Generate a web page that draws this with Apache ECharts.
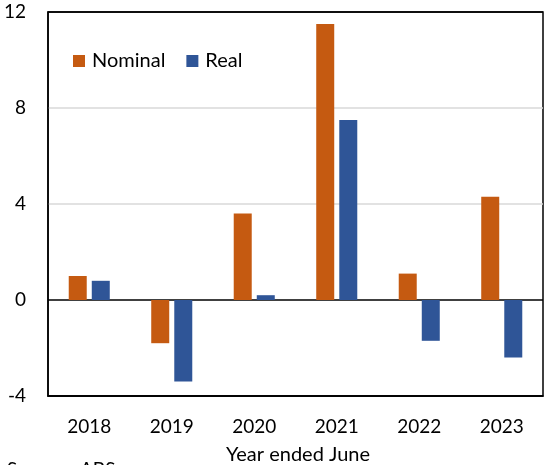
<!DOCTYPE html>
<html>
<head>
<meta charset="utf-8">
<script src="https://cdn.jsdelivr.net/npm/echarts@6/dist/echarts.min.js"></script>
<style>
  html, body { margin: 0; padding: 0; background: #fff; }
  #chart { width: 544px; height: 465px; }
</style>
</head>
<body>
<div id="chart"></div>
<script>
// Annual growth, year ended June (per cent)
const years = ['2018', '2019', '2020', '2021', '2022', '2023'];
const nominal = [1.0, -1.8, 3.6, 11.5, 1.1, 4.3];
const real = [0.8, -3.4, 0.2, 7.5, -1.7, -2.4];
const yTicks = { min: -4, max: 12, step: 4 };

const FONT = 'Lato, "Open Sans", sans-serif';
const chart = echarts.init(document.getElementById('chart'), null, { renderer: 'canvas' });

chart.setOption({
  animation: false,
  backgroundColor: '#fff',
  textStyle: { fontFamily: FONT },
  grid: {
    left: 48, right: 1, top: 12, bottom: 69,
    show: true, borderColor: '#000', borderWidth: 1.5, backgroundColor: 'transparent'
  },
  legend: {
    left: 68, top: 46,
    itemWidth: 12, itemHeight: 12, itemGap: 21,
    icon: 'rect',
    textStyle: { fontFamily: FONT, fontSize: 20, color: '#000', padding: [0, 0, 0, 2] },
    data: ['Nominal', 'Real']
  },
  xAxis: {
    type: 'category',
    data: years,
    axisTick: { show: false },
    axisLine: { onZero: false, lineStyle: { color: '#000', width: 1.5 } },
    axisLabel: { fontFamily: FONT, fontSize: 19, color: '#000', margin: 21 }
  },
  yAxis: {
    type: 'value',
    min: yTicks.min, max: yTicks.max, interval: yTicks.step,
    axisTick: { show: false },
    axisLine: { show: true, lineStyle: { color: '#000', width: 1.5 } },
    axisLabel: { fontFamily: FONT, fontSize: 19, color: '#000', margin: 22 },
    splitLine: {
      show: true,
      lineStyle: { color: ['#000', '#000', '#d9d9d9', '#d9d9d9', '#000'], width: 1.5 }
    }
  },
  series: [
    {
      name: 'Nominal', type: 'bar', data: nominal,
      barWidth: 18, barGap: '28%',
      itemStyle: { color: '#C55A11' }
    },
    {
      name: 'Real', type: 'bar', data: real,
      barWidth: 18,
      itemStyle: { color: '#2F5597' }
    }
  ],
  graphic: [
    {
      type: 'text', x: 298, y: 455,
      style: { text: 'Year ended June', fontFamily: FONT, fontSize: 20, fill: '#000',
               align: 'center', verticalAlign: 'middle' }
    },
    {
      type: 'text', x: 7, y: 460,
      style: { text: 'Source:', fontFamily: FONT, fontSize: 19, fill: '#000', verticalAlign: 'top' }
    },
    {
      type: 'text', x: 80, y: 460,
      style: { text: 'ABS', fontFamily: FONT, fontSize: 19, fill: '#000', verticalAlign: 'top' }
    }
  ]
});
</script>
</body>
</html>
